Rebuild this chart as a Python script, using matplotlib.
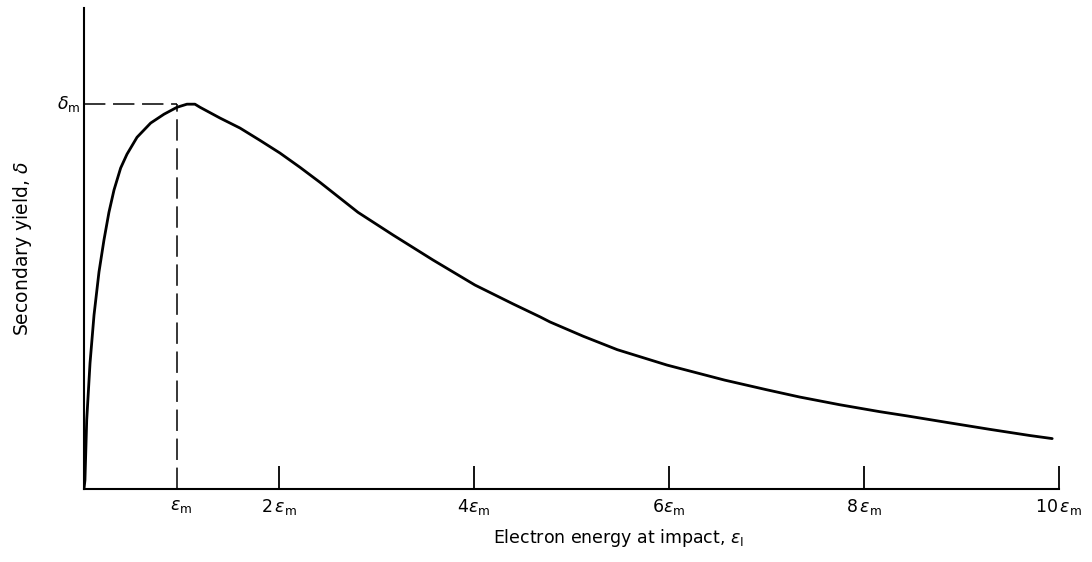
import matplotlib.pyplot as plt
import numpy as np

plt.rcParams['font.family'] = ['DejaVu Sans']
plt.rcParams['mathtext.fontset'] = 'dejavusans'

# energy in units of eps_m, yield in units of delta_m
energy = [0.0, 0.010, 0.028, 0.062, 0.103, 0.154, 0.205, 0.256, 0.308, 0.376,
          0.441, 0.544, 0.684, 0.821, 0.954, 1.056, 1.138, 1.19, 1.395, 1.60,
          1.805, 2.01, 2.215, 2.42, 2.55, 2.81, 3.17, 3.58, 4.01, 4.40,
          4.68, 4.78, 5.12, 5.47, 5.98, 6.57, 7.00, 7.34, 7.75, 8.16,
          8.44, 8.85, 9.29, 9.70, 9.93]
yield_ = [0.0, 0.023, 0.179, 0.327, 0.452, 0.564, 0.647, 0.719, 0.777, 0.834,
          0.870, 0.914, 0.951, 0.974, 0.992, 1.0, 1.0, 0.992, 0.964, 0.938,
          0.906, 0.873, 0.836, 0.797, 0.771, 0.719, 0.660, 0.595, 0.530, 0.481,
          0.447, 0.434, 0.397, 0.362, 0.322, 0.283, 0.258, 0.239, 0.219, 0.201,
          0.190, 0.173, 0.155, 0.139, 0.131]

tick_pos = [1, 2, 4, 6, 8, 10]
tick_lab = [r'$\epsilon_{\rm m}$', r'$2\,\epsilon_{\rm m}$', r'$4\epsilon_{\rm m}$',
            r'$6\epsilon_{\rm m}$', r'$8\,\epsilon_{\rm m}$', r'$10\,\epsilon_{\rm m}$']
eps_line = 0.955   # where the dashed guide drops
delta_m = 1.0

fig = plt.figure(figsize=(10.92, 5.62), dpi=100)
ax = fig.add_axes([0.0769, 0.1299, 0.8929, 0.8559])

ax.plot(energy, yield_, color='black', lw=2.0, solid_capstyle='round',
        solid_joinstyle='round')
ax.plot([0, eps_line], [delta_m, delta_m], color='black', lw=1.1, dashes=(14, 5))
ax.plot([eps_line, eps_line], [0, delta_m], color='black', lw=1.1, dashes=(14, 5))

ax.set_xlim(0, 10)
ax.set_ylim(0, 1.25)
for s in ['top', 'right']:
    ax.spines[s].set_visible(False)
for s in ['left', 'bottom']:
    ax.spines[s].set_linewidth(1.5)

ax.set_yticks([])
ax.set_xticks(tick_pos)
ax.set_xticklabels(tick_lab, fontsize=12.5)
ax.tick_params(axis='x', direction='in', length=16.5, width=1.3, pad=6)
ax.xaxis.get_major_ticks()[0].tick1line.set_visible(False)

ax.text(-0.04, delta_m, r'$\delta_{\rm m}$', ha='right', va='center', fontsize=12.5)

ax.set_xlabel(r'Electron energy at impact, $\epsilon_{\rm I}$', fontsize=12.5)
ax.xaxis.set_label_coords(0.548, -0.078)
ax.set_ylabel(r'Secondary yield, $\delta$', fontsize=13.5)
ax.yaxis.set_label_coords(-0.051, 0.5)

fig.savefig('out.png', dpi=100)
